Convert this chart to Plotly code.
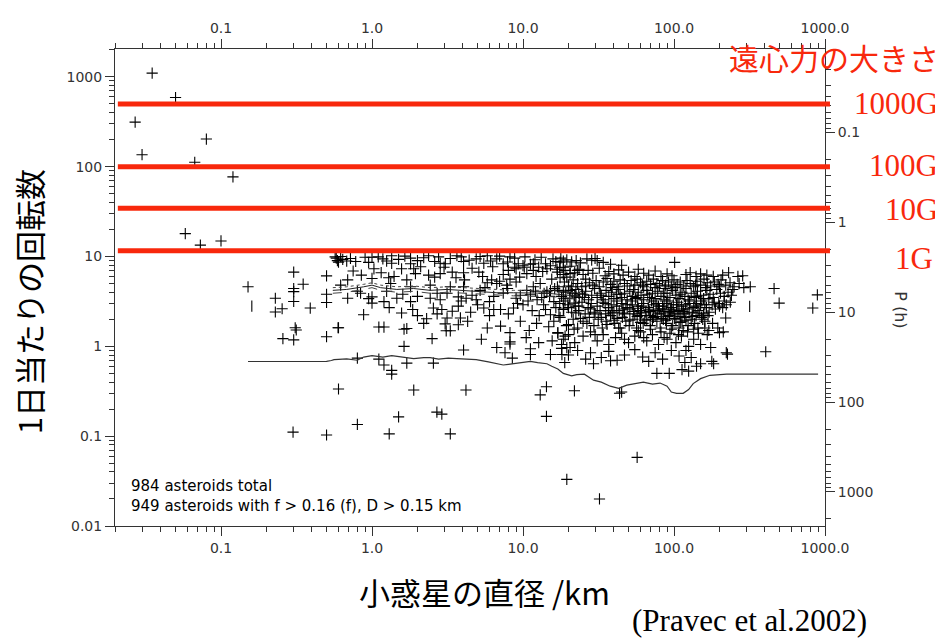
import math
import plotly.graph_objects as go

# ---------------- data (diameter km, rotation frequency rev/day) ----------------
fast_pts = [(0.035, 1100), (0.050, 589), (0.027, 313), (0.080, 203), (0.030, 136),
            (0.067, 112), (0.12, 77), (0.058, 18), (0.073, 13.4), (0.10, 14.9)]

small_pts = [(0.151, 4.6), (0.229, 3.43), (0.229, 2.41), (0.254, 2.62), (0.257, 1.22),
             (0.303, 6.7), (0.303, 4.4), (0.303, 4.06), (0.303, 3.16), (0.31, 1.61),
             (0.315, 1.52), (0.303, 1.18), (0.35, 4.92), (0.39, 2.67), (0.50, 6.08),
             (0.50, 3.8), (0.50, 3.08), (0.50, 1.28), (0.596, 1.61), (0.30, 0.111),
             (0.50, 0.103), (0.58, 9.6), (0.59, 9.0), (0.62, 10.0), (0.64, 9.3)]

mid_pts = [(0.60, 8.65), (0.68, 8.9), (0.78, 8.8), (0.90, 9.8), (1.0, 9.8), (1.18, 9.4),
           (1.35, 10.2), (1.35, 8.4), (1.80, 9.6), (1.80, 8.3), (2.37, 10.2), (2.76, 9.9),
           (2.83, 8.4), (3.06, 8.3), (3.65, 10.2), (4.04, 8.8), (4.9, 9.4), (5.5, 8.4),
           (5.8, 10.2), (6.7, 9.4), (8.2, 9.9), (9.3, 8.3), (11.2, 8.2), (14.1, 8.3),
           (17.6, 8.65), (1.03, 7.3), (1.57, 7.3), (1.89, 7.3), (1.94, 6.45), (1.70, 5.5),
           (2.37, 6.2), (2.83, 6.45), (3.4, 6.7), (4.04, 6.6), (4.1, 5.5), (5.1, 6.7),
           (5.8, 5.1), (7.4, 6.3), (8.2, 5.6), (9.0, 7.3), (10.6, 6.45), (11.7, 7.0),
           (14.4, 7.3), (18.5, 6.3), (20.5, 6.45), (0.69, 5.5), (1.0, 5.7), (1.29, 5.8),
           (0.69, 3.43), (1.0, 3.55), (1.0, 3.03), (1.20, 3.15), (1.46, 3.43), (1.80, 3.15),
           (2.43, 3.43), (2.83, 3.3), (3.14, 3.9), (3.73, 3.55), (4.2, 3.43), (4.9, 3.3),
           (6.0, 3.15), (7.4, 3.9), (9.0, 3.43), (11.2, 3.75), (13.8, 3.9), (15.2, 4.2),
           (18.5, 4.05), (22.4, 3.55), (0.88, 2.25), (1.57, 2.35), (1.86, 2.57), (2.3, 2.03),
           (2.55, 2.67), (2.9, 2.57), (3.14, 2.07), (3.4, 2.46), (3.73, 2.8), (3.85, 2.07),
           (5.5, 2.67), (6.4, 2.57), (7.1, 2.57), (14.1, 2.57), (15.2, 2.25), (18.5, 2.57),
           (22.4, 2.35), (0.60, 1.61), (1.11, 1.64), (1.20, 1.64), (1.63, 1.55), (1.70, 1.58),
           (3.05, 1.78), (3.1, 1.49), (3.3, 1.49), (3.73, 1.74), (7.1, 1.68), (8.2, 1.42),
           (17.0, 1.42), (19.0, 1.3), (21.8, 1.55), (8.2, 1.12), (8.2, 1.06), (6.7, 0.97),
           (2.5, 1.22), (1.63, 1.0), (19.5, 0.97), (4.04, 0.91), (7.6, 0.85), (8.5, 0.74),
           (11.2, 0.94), (11.2, 0.81), (15.2, 0.81), (18.1, 0.81), (20.5, 0.97), (0.80, 0.74),
           (1.11, 0.72), (1.20, 0.62), (1.70, 0.65), (2.55, 0.65), (1.35, 0.54), (1.35, 0.49),
           (7.4, 8.3), (8.8, 7.6), (10.0, 7.9), (11.7, 8.3), (12.7, 7.6), (15.2, 7.9),
           (16.9, 6.7), (18.5, 7.6), (22.9, 7.0), (6.2, 5.5), (6.7, 5.0), (7.8, 4.8),
           (9.0, 5.2), (10.6, 4.2), (11.7, 4.6), (13.0, 5.0), (14.4, 4.05), (16.9, 4.6),
           (20.5, 4.2), (23.4, 3.9), (21.8, 3.03), (23.4, 2.8), (18.5, 3.43), (16.0, 3.15),
           (12.4, 3.3), (10.0, 2.9), (8.65, 2.67), (2.43, 4.8), (1.80, 4.6), (1.33, 5.0),
           (0.84, 3.9), (4.04, 4.6), (5.2, 4.2),
           (0.57, 9.9), (0.72, 9.5), (0.95, 8.6), (1.1, 9.9), (1.25, 8.9), (1.5, 9.3),
           (1.65, 10.1), (2.0, 9.0), (2.2, 9.7), (2.6, 8.8), (3.3, 9.5), (3.9, 9.9), (4.4, 9.1),
           (5.2, 10.0), (6.1, 8.9), (7.0, 10.1), (7.9, 8.7), (8.8, 9.6), (10.3, 9.9),
           (12.0, 9.2), (13.2, 9.8), (15.8, 9.4), (16.5, 8.8),
           (0.75, 6.9), (0.85, 6.2), (1.15, 6.6), (1.4, 6.0), (2.1, 7.7), (2.6, 5.9),
           (3.0, 7.6), (3.6, 5.8), (4.6, 7.4), (5.4, 6.0), (6.3, 7.7), (7.0, 5.3), (8.0, 7.0),
           (9.5, 5.9), (10.2, 7.6), (12.2, 6.0), (13.5, 6.8), (15.5, 5.6), (16.8, 7.2),
           (19.5, 5.9),
           (0.62, 4.8), (0.8, 4.1), (0.95, 3.4), (1.25, 4.1), (1.6, 3.8), (2.0, 3.6),
           (2.7, 3.9), (3.3, 4.6), (3.9, 3.2), (4.6, 3.7), (5.6, 4.5), (6.4, 3.6), (7.9, 4.4),
           (9.6, 3.7), (10.8, 3.2), (12.1, 4.1), (13.3, 3.5), (15.0, 3.6), (16.2, 4.4),
           (19.0, 3.2), (21.0, 4.6),
           (1.3, 2.7), (2.0, 2.2), (2.7, 2.3), (4.5, 2.4), (5.0, 2.9), (6.0, 2.2), (8.0, 2.3),
           (9.2, 3.0), (11.5, 2.5), (12.8, 2.2), (13.7, 2.9), (16.5, 2.7), (17.3, 2.2),
           (20.0, 2.7), (2.2, 1.8), (4.3, 1.9), (5.8, 1.6), (9.6, 1.9), (11.0, 1.5),
           (12.3, 1.8), (14.8, 1.65), (16.0, 1.9), (20.0, 1.75),
           (5.3, 1.2), (10.5, 1.25), (12.7, 1.1), (15.6, 1.15), (18.0, 1.05)]

cluster_pts = [
    (17.8, 9.6), (18.5, 8.9), (19.5, 9.2), (21, 8.7), (22.5, 9.0), (24, 8.5), (26.5, 9.4),
    (28.5, 9.1), (30, 9.5), (31, 9.0), (34, 8.6), (101, 8.6), (38, 8.2), (45, 8.0),
    (17.5, 7.5), (19, 7.0), (20.5, 7.8), (22, 6.6), (23.5, 7.2), (25, 6.3), (27, 7.0),
    (29, 6.5), (32, 7.4), (35, 6.1), (37, 6.8), (40, 6.4), (43, 7.1), (46, 6.2), (50, 6.7),
    (55, 6.0), (58, 7.2), (63, 6.5), (68, 6.2), (75, 6.9), (82, 6.0), (90, 6.4), (97, 6.1),
    (120, 6.3), (128, 6.6), (140, 6.0), (150, 6.4), (165, 6.2), (182, 6.0), (210, 6.2),
    (230, 6.6), (265, 6.0), (285, 6.1),
    (17.6, 5.8), (18.8, 5.2), (20, 4.7), (21.5, 5.5), (23, 5.0), (24.5, 4.6), (26, 5.6),
    (27.5, 5.1), (29, 4.8), (30.5, 5.4), (32, 4.6), (34, 5.2), (36, 5.7), (38, 4.9),
    (40, 5.3), (42, 4.6), (44, 5.5), (47, 5.0), (49, 4.7), (52, 5.4), (55, 4.8), (57, 5.6),
    (60, 5.1), (63, 4.6), (66, 5.3), (70, 4.9), (73, 5.6), (77, 5.0), (80, 4.7), (84, 5.4),
    (88, 4.8), (92, 5.2), (96, 4.6), (100, 5.5), (105, 4.9), (110, 5.2), (116, 4.7),
    (122, 5.4), (128, 5.0), (135, 4.6), (142, 5.3), (150, 4.8), (158, 5.6), (166, 5.1),
    (175, 4.7), (185, 5.2), (196, 4.9), (205, 5.5), (220, 4.8), (235, 5.1), (250, 4.6),
    (270, 5.0), (290, 4.5), (320, 4.6),
    (17.3, 4.2), (18, 3.6), (19.2, 4.0), (20.4, 3.4), (21.2, 3.9), (22.4, 4.3), (23.6, 3.5),
    (24.8, 3.8), (26, 4.1), (27.2, 3.3), (28.5, 3.7), (29.8, 4.4), (31, 3.5), (32.5, 3.9),
    (34, 3.3), (35.5, 4.2), (37, 3.6), (38.5, 4.0), (40, 3.4), (41.5, 3.8), (43, 4.3),
    (45, 3.5), (47, 3.9), (49, 3.3), (51, 4.1), (53, 3.6), (55.5, 3.4), (58, 4.0),
    (60.5, 3.7), (63, 3.3), (66, 4.2), (69, 3.5), (72, 3.9), (75, 3.4), (78, 4.1), (82, 3.6),
    (86, 3.3), (90, 3.9), (94, 3.5), (98, 4.2), (103, 3.7), (108, 3.4), (113, 4.0),
    (118, 3.6), (124, 3.3), (130, 3.9), (136, 3.5), (143, 4.1), (150, 3.7), (157, 3.4),
    (165, 4.2), (173, 3.8), (182, 3.5), (192, 4.3), (203, 3.9), (215, 3.6), (228, 4.0),
    (240, 3.7), (22, 3.7), (25.5, 3.5), (33, 3.7), (44, 3.8), (57, 3.5), (67, 3.8),
    (85, 3.9), (110, 3.8), (140, 3.6), (170, 3.4),
    (17.5, 3.0), (18.6, 2.6), (19.8, 2.9), (21, 2.4), (22.2, 2.8), (23.4, 2.5), (24.6, 3.1),
    (25.8, 2.3), (27, 2.7), (28.3, 3.0), (29.6, 2.4), (31, 2.8), (32.4, 2.5), (33.8, 3.1),
    (35.3, 2.3), (36.8, 2.7), (38.4, 2.9), (40, 2.4), (41.7, 2.8), (43.4, 2.5), (45.2, 3.0),
    (47, 2.3), (49, 2.7), (51, 2.6), (53, 2.9), (55, 2.3), (57.5, 2.8), (60, 2.5),
    (62.5, 3.0), (65, 2.4), (67.5, 2.7), (70, 2.2), (73, 2.9), (76, 2.5), (79, 2.8),
    (82, 2.3), (85.5, 2.6), (89, 3.0), (92.5, 2.4), (96, 2.7), (100, 2.3), (104, 2.9),
    (108, 2.5), (112, 2.8), (117, 2.3), (122, 2.6), (127, 3.0), (132, 2.4), (138, 2.8),
    (144, 2.5), (150, 2.9), (157, 2.3), (164, 2.7), (171, 2.4), (179, 2.9), (188, 2.6),
    (198, 3.0), (210, 2.7), (222, 2.9), (236, 3.1), (28, 2.6), (37, 2.5), (46, 2.6),
    (58, 2.65), (68, 2.55), (80, 2.6), (95, 2.55), (115, 2.6), (135, 2.7),
    (17.6, 2.1), (19.4, 1.7), (21.5, 2.0), (23, 1.6), (25, 1.9), (27.5, 2.1), (29.5, 1.7),
    (31.5, 2.0), (33.5, 1.6), (35.5, 1.9), (38, 2.2), (40.5, 1.8), (43, 1.6), (45.5, 2.1),
    (48, 1.9), (50.5, 1.7), (53.5, 2.0), (56.5, 1.6), (59.5, 2.2), (62.5, 1.8), (66, 2.0),
    (69.5, 1.7), (73, 2.1), (77, 1.9), (81, 1.6), (85, 2.0), (89, 1.8), (93.5, 2.2),
    (98, 1.7), (103, 2.0), (108, 1.6), (113, 1.9), (118, 2.1), (124, 1.7), (130, 2.0),
    (137, 1.8), (144, 1.6), (152, 2.1), (160, 1.9), (170, 1.5), (180, 1.8), (195, 1.6),
    (75, 2.15), (60, 1.85), (88, 1.95), (110, 1.85), (40, 1.95), (140, 2.2),
    (17, 1.4), (18.5, 1.2), (20, 1.35), (22, 1.1), (25, 1.3), (28, 1.45), (31, 1.15),
    (34, 1.35), (37, 1.05), (41, 1.25), (45, 1.4), (50, 1.1), (55, 1.3), (60, 1.45),
    (66, 1.15), (72, 1.35), (79, 1.05), (86, 1.25), (94, 1.4), (103, 1.1), (112, 1.3),
    (123, 1.45), (135, 1.2), (150, 1.05), (166, 1.35), (200, 1.42), (175, 0.97),
    (145, 1.4), (125, 1.0),
    (18, 0.95), (20, 0.8), (23, 0.9), (26, 0.72), (28, 0.85), (33, 0.75), (37, 0.88),
    (42, 0.7), (47, 0.8), (55, 0.92), (62, 0.76), (68, 0.68), (75, 0.85), (84, 0.72),
    (96, 0.9), (108, 0.78), (118, 0.66), (130, 0.75), (150, 0.64), (178, 0.68),
    (222, 0.85), (120, 0.9), (18.9, 0.66), (29.3, 0.64), (38, 0.69), (183, 0.64),
    (141, 0.6), (77, 0.5), (93, 0.5), (113, 0.55), (125, 0.53), (45, 0.31),
    (24, 2.05), (26.5, 1.8), (30, 2.3), (33, 2.1), (36, 1.75), (39, 2.35), (42, 2.05),
    (46, 2.35), (51, 1.95), (54, 2.45), (57, 2.15), (61, 2.35), (64, 1.95), (69, 2.45),
    (72, 2.0), (78, 2.35), (83, 2.05), (87, 2.45), (91, 2.15), (97, 2.45), (101, 2.05),
    (106, 2.35), (111, 2.15), (115, 2.45), (120, 1.95), (126, 2.35), (133, 2.15),
    (147, 2.35), (155, 2.0), (168, 2.2),
    (35, 3.0), (42, 3.2), (48, 2.9), (52, 3.2), (61, 2.8), (71, 3.2), (77, 3.0), (84, 2.8),
    (91, 3.2), (99, 2.9), (106, 3.1), (119, 2.9), (126, 3.2), (141, 3.0), (153, 3.2),
    (160, 2.9), (185, 3.1), (200, 2.8), (215, 3.2),
    (26, 4.7), (39, 4.5), (54, 4.3), (62, 4.8), (75, 4.5), (87, 4.4), (102, 4.5),
    (120, 4.4), (139, 4.8), (162, 4.5), (200, 4.6), (245, 4.3),
    (30, 1.35), (44, 1.6), (58, 1.5), (70, 1.55), (82, 1.45), (96, 1.55), (115, 1.5),
    (135, 1.55), (160, 1.6), (47, 1.2), (63, 1.25), (90, 1.2), (107, 1.35)]

outer_pts = [(460, 4.4), (497, 3.03), (890, 3.74), (830, 2.67), (405, 0.87),
             (226, 0.82), (212, 1.45), (220, 2.07)]

low_pts = [(0.60, 0.335), (0.80, 0.135), (1.30, 0.106), (1.50, 0.164), (1.89, 0.326),
           (2.69, 0.185), (2.90, 0.176), (3.3, 0.106), (4.19, 0.326), (13.0, 0.288),
           (14.3, 0.355), (14.3, 0.166), (21.9, 0.32), (19.5, 0.033), (32.1, 0.020),
           (43.6, 0.30), (57, 0.058)]

bar_pts = [(0.16, 2.8), (317, 2.78)]

# lower envelope line
env_d = [0.151, 0.30, 0.50, 0.538, 0.56, 0.60, 0.68, 0.80, 0.88, 1.0, 1.18, 1.35, 1.6, 1.89,
         2.2, 2.43, 2.76, 3.2, 3.65, 4.2, 4.9, 5.9, 7.4, 8.0, 9.8, 11.2, 12.5, 14.4, 15.5,
         17, 18.5, 20, 21, 22.7, 25.5, 29.3, 33, 37.8, 43, 48.7, 56, 62.7, 72, 80.9, 90,
         96, 104, 115, 125, 134, 150, 173, 223, 300, 500, 900]
env_f = [0.678, 0.678, 0.68, 0.695, 0.71, 0.715, 0.725, 0.70, 0.76, 0.79, 0.76, 0.79, 0.76,
         0.73, 0.75, 0.75, 0.72, 0.74, 0.73, 0.72, 0.71, 0.67, 0.62, 0.63, 0.66, 0.68, 0.66,
         0.64, 0.6, 0.56, 0.5, 0.476, 0.47, 0.484, 0.49, 0.42, 0.40, 0.36, 0.34, 0.37, 0.39,
         0.40, 0.38, 0.39, 0.36, 0.31, 0.30, 0.30, 0.33, 0.385, 0.437, 0.476, 0.49, 0.49,
         0.49, 0.49]

# running-mean lines
mean_d = [0.55, 0.68, 0.88, 1.0, 1.14, 1.46, 1.89, 2.43, 3.14, 4.04, 5.21, 6.72, 8.65,
          11.2, 14.4, 18.5, 23.9]
mean_f = [4.2, 4.3, 4.6, 4.8, 4.5, 4.3, 4.4, 4.2, 4.3, 4.2, 4.05, 3.95, 3.95, 3.9, 3.9,
          3.75, 3.6]
mean_hi_f = [4.5, 4.6, 4.9, 5.1, 4.8, 4.6, 4.7, 4.5, 4.6, 4.5, 4.35, 4.25, 4.2, 4.2, 4.2,
             4.05, 3.9]
mean_lo_f = [3.9, 4.0, 4.3, 4.5, 4.2, 4.0, 4.1, 3.9, 4.0, 3.9, 3.8, 3.7, 3.65, 3.6, 3.6,
             3.5, 3.35]

g_levels = [500, 100, 34.4, 11.6]
g_labels = ["1000G", "100G", "10G", "1G"]

X_RANGE = [-1.702, 3.0]
Y_RANGE = [-2.0, 3.31]

RED = "#f8280c"
AX = "#333333"
TICKFONT = dict(family="DejaVu Sans", size=14, color="#333333")

all_pts = fast_pts + small_pts + mid_pts + cluster_pts + outer_pts + low_pts
px_d = [p[0] for p in all_pts]
px_f = [p[1] for p in all_pts]

fig = go.Figure()
fig.add_trace(go.Scatter(x=px_d, y=px_f, mode="markers",
                         marker=dict(symbol="cross-thin", size=8,
                                     line=dict(width=1.1, color="black"), color="black"),
                         showlegend=False, hoverinfo="skip"))
fig.add_trace(go.Scatter(x=[p[0] for p in bar_pts], y=[p[1] for p in bar_pts], mode="markers",
                         marker=dict(symbol="line-ns", size=8,
                                     line=dict(width=1.1, color="black")),
                         showlegend=False, hoverinfo="skip"))
fig.add_trace(go.Scatter(x=env_d, y=env_f, mode="lines",
                         line=dict(color="#333333", width=1.2), showlegend=False))
fig.add_trace(go.Scatter(x=mean_d, y=mean_f, mode="lines",
                         line=dict(color="#222222", width=1), showlegend=False))
fig.add_trace(go.Scatter(x=mean_d, y=mean_hi_f, mode="lines",
                         line=dict(color="#444444", width=1, dash="dot"), showlegend=False))
fig.add_trace(go.Scatter(x=mean_d, y=mean_lo_f, mode="lines",
                         line=dict(color="#444444", width=1, dash="dash"), showlegend=False))
# helper traces so that top and right axes are drawn
fig.add_trace(go.Scatter(x=[1], y=[1], xaxis="x2", yaxis="y", mode="markers",
                         marker=dict(opacity=0), showlegend=False, hoverinfo="skip"))
fig.add_trace(go.Scatter(x=[1], y=[1], xaxis="x", yaxis="y2", mode="markers",
                         marker=dict(opacity=0), showlegend=False, hoverinfo="skip"))

minor = dict(ticks="outside", ticklen=5, tickcolor=AX, tickwidth=1, showgrid=False)
common = dict(type="log", showline=True, linecolor=AX, linewidth=1, ticks="outside",
              ticklen=9, tickcolor=AX, tickwidth=1, showgrid=False, zeroline=False,
              tickfont=TICKFONT, dtick=1, minor=minor)

# the page body adds an 8px offset; the figure is sized/margined to compensate
log24 = math.log10(24)
fig.update_layout(
    width=935, height=630,
    margin=dict(l=107, r=118, t=34, b=112),
    paper_bgcolor="white", plot_bgcolor="white",
    xaxis=dict(range=X_RANGE, tickformat=".1f", **common),
    xaxis2=dict(range=X_RANGE, overlaying="x", side="top", tickformat=".1f", **common),
    yaxis=dict(range=Y_RANGE, tickformat="~g", **common),
    yaxis2=dict(range=[log24 - Y_RANGE[0], log24 - Y_RANGE[1]], overlaying="y", side="right",
                tickformat="~g", **common),
)

for lv in g_levels:
    fig.add_shape(type="line", xref="paper", yref="y", x0=0.004, x1=1.007, y0=lv, y1=lv,
                  line=dict(color=RED, width=5), layer="above")


def px(xp):
    return (xp - 115) / 710


def py(yp):
    return (526 - yp) / 484


ann = []
g_ypix = [97, 160, 205, 255]
g_xright = [940, 940, 940, 935]
for lab, yp, xr in zip(g_labels, g_ypix, g_xright):
    ann.append(dict(text=lab, xref="paper", yref="paper", x=px(xr), y=py(yp),
                    xanchor="right", yanchor="middle", showarrow=False,
                    font=dict(family="Liberation Serif", size=31, color=RED)))
ann.append(dict(text="遠心力の大きさ", xref="paper", yref="paper", x=px(941), y=py(50),
                xanchor="right", yanchor="middle", showarrow=False,
                font=dict(family="Noto Sans CJK JP", size=30, color=RED)))
ann.append(dict(text="1日当たりの回転数", xref="paper", yref="paper", x=px(28), y=py(299),
                xanchor="center", yanchor="middle", showarrow=False, textangle=-90,
                font=dict(family="Noto Sans CJK JP", size=31, color="black")))
ann.append(dict(text="小惑星の直径 /km", xref="paper", yref="paper", x=px(484), y=py(592),
                xanchor="center", yanchor="middle", showarrow=False,
                font=dict(family="Noto Sans CJK JP", size=31, color="black")))
ann.append(dict(text="(Pravec et al.2002)", xref="paper", yref="paper", x=px(749), y=py(622),
                xanchor="center", yanchor="middle", showarrow=False,
                font=dict(family="Liberation Serif", size=31, color="black")))
ann.append(dict(text="P (h)", xref="paper", yref="paper", x=px(901), y=py(306),
                xanchor="center", yanchor="middle", showarrow=False, textangle=90,
                font=dict(family="DejaVu Sans", size=16, color="#333333")))
ann.append(dict(text="984 asteroids total<br>949 asteroids with f > 0.16 (f), D > 0.15 km",
                xref="paper", yref="paper", x=px(129), y=py(496),
                xanchor="left", yanchor="middle", align="left", showarrow=False,
                font=dict(family="DejaVu Sans", size=15, color="black")))
fig.update_layout(annotations=ann)

fig.write_html("out.html")
